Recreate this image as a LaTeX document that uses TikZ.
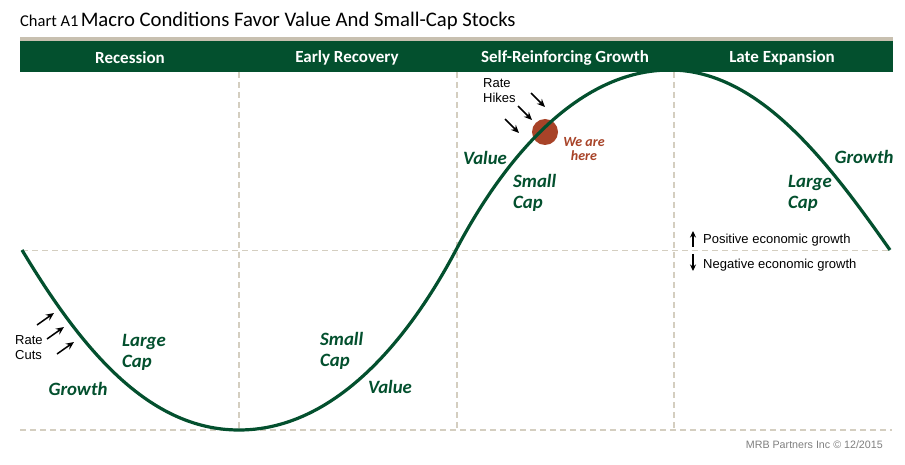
\documentclass[tikz,border=0pt]{standalone}
\usepackage{fontspec}
\setmainfont{Carlito}
\newfontfamily\arialf{Liberation Sans}
\usetikzlibrary{arrows.meta}
\definecolor{mrbgreen}{RGB}{3,80,46}
\definecolor{gridbeige}{RGB}{212,206,192}
\definecolor{barbeige}{RGB}{200,192,176}
\definecolor{rust}{RGB}{168,67,40}
\definecolor{footgray}{RGB}{128,128,128}
\begin{document}
\begin{tikzpicture}[x=1pt,y=-1pt,
 gridline/.style={draw=gridbeige, line width=1.3pt, dash pattern=on 6pt off 4pt},
 bandlbl/.style={text=white, font=\fontsize{17}{19}\selectfont\bfseries, inner sep=0pt},
 lbl/.style={text=mrbgreen, font=\fontsize{18.8}{21}\selectfont\bfseries\itshape, align=left, inner sep=0pt},
 note/.style={font=\arialf\fontsize{13}{15}\selectfont, align=left, inner sep=0pt},
 ptr/.style={-{Stealth[length=8pt,width=7pt]}, line width=1.5pt},
 legptr/.style={-{Stealth[length=6.5pt,width=6pt]}, line width=1.3pt}
]
\useasboundingbox (0,0) rectangle (905,465);
\fill[white] (0,0) rectangle (905,465);
% title
\node[anchor=base west, inner sep=0pt] (title) at (20,27)
  {{\fontsize{16.5}{18}\selectfont Chart A1} {\fontsize{20.7}{23}\selectfont Macro Conditions Favor Value And Small-Cap Stocks}};
% header band
\fill[barbeige] (20,37) rectangle (893,41);
\fill[mrbgreen] (20,41) rectangle (893,72);
\node[bandlbl] (rec) at (130,58) {Recession};
\node[bandlbl] (early) at (347,58) {Early Recovery};
\node[bandlbl] (self) at (565,58) {Self-Reinforcing Growth};
\node[bandlbl] (late) at (782,58) {Late Expansion};
% grid
\draw[gridline] (239,72) -- (239,430);
\draw[gridline] (457,72) -- (457,430);
\draw[gridline] (674,72) -- (674,430);
\draw[gridline] (22,250.5) -- (890,250.5);
\draw[gridline] (20,430) -- (892,430);
% marker
\node[circle, fill=rust, minimum size=26pt, inner sep=0pt] (dot) at (545,132) {};
% curve
\draw[mrbgreen, line width=3.2pt] (22,250) .. controls (82,350) and (149,430) .. (239,430)
  .. controls (329,430) and (403,350) .. (456,250)
  .. controls (506,155) and (580,70) .. (670,70)
  .. controls (760,70) and (830,165) .. (890,250);
% labels
\node[lbl] (valT) at (485,158) {Value};
\node[lbl, anchor=west] (smallT) at (513,193) {Small\\Cap};
\node[lbl, anchor=west] (largeL) at (122,352) {Large\\Cap};
\node[lbl] (growL) at (78,389) {Growth};
\node[lbl, anchor=west] (smallB) at (320,351) {Small\\Cap};
\node[lbl] (valB) at (390,387) {Value};
\node[lbl, anchor=west] (largeR) at (788,193) {Large\\Cap};
\node[lbl] (growR) at (864,157) {Growth};
\node[text=rust, font=\fontsize{14}{14.5}\selectfont\bfseries\itshape, align=center, inner sep=0pt] (here) at (584,149) {We are\\here};
% rate hikes
\node[note, anchor=west] (hikes) at (483,91) {Rate\\Hikes};
\coordinate (h1s) at (531,93); \coordinate (h1e) at (545,107);
\coordinate (h2s) at (518,106); \coordinate (h2e) at (532,120);
\coordinate (h3s) at (505,119); \coordinate (h3e) at (519,133);
\draw[ptr] (h1s) -- (h1e);
\draw[ptr] (h2s) -- (h2e);
\draw[ptr] (h3s) -- (h3e);
% rate cuts
\node[note, anchor=west] (cuts) at (15,348) {Rate\\Cuts};
\coordinate (c1s) at (37,325); \coordinate (c1e) at (54,313);
\coordinate (c2s) at (47,339); \coordinate (c2e) at (64,327);
\coordinate (c3s) at (57,354); \coordinate (c3e) at (74,342);
\draw[ptr] (c1s) -- (c1e);
\draw[ptr] (c2s) -- (c2e);
\draw[ptr] (c3s) -- (c3e);
% legend
\coordinate (upS) at (693,247); \coordinate (upE) at (693,231);
\coordinate (dnS) at (693,254); \coordinate (dnE) at (693,271);
\draw[legptr] (upS) -- (upE);
\draw[legptr] (dnS) -- (dnE);
\node[note, anchor=west] (pos) at (703,240) {Positive economic growth};
\node[note, anchor=west] (neg) at (703,265) {Negative economic growth};
% footer
\node[anchor=east, inner sep=0pt, text=footgray, font=\arialf\fontsize{10.7}{13}\selectfont] (foot) at (883,445) {MRB Partners Inc © 12/2015};
\end{tikzpicture}
\end{document}
